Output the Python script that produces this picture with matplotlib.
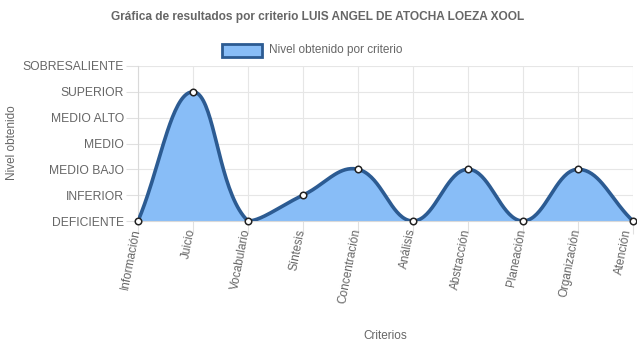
import matplotlib
matplotlib.use("Agg")
import matplotlib.pyplot as plt
import matplotlib.transforms as mtransforms
import numpy as np

plt.rcParams['font.family'] = ['Liberation Sans', 'DejaVu Sans']

criterios = ['Información', 'Juicio', 'Vocabulario', 'Síntesis', 'Concentración',
             'Análisis', 'Abstracción', 'Planeación', 'Organización', 'Atención']
niveles = ['DEFICIENTE', 'INFERIOR', 'MEDIO BAJO', 'MEDIO', 'MEDIO ALTO',
           'SUPERIOR', 'SOBRESALIENTE']
valores = [0, 5, 0, 1, 2, 0, 2, 0, 2, 0]

W, H = 637, 348
L, R, T, B = 138, 633, 66, 221


def spline(xs, ys, sx, sy, tension=0.4):
    """Bezier como el de Chart.js (tension 0.4), calculado en pixeles."""
    px = np.asarray(xs, float) * sx
    py = np.asarray(ys, float) * sy
    n = len(px)
    cp_prev, cp_next = [], []
    for i in range(n):
        a = max(i - 1, 0)
        c = min(i + 1, n - 1)
        d01 = np.hypot(px[i] - px[a], py[i] - py[a])
        d12 = np.hypot(px[c] - px[i], py[c] - py[i])
        tot = d01 + d12
        s01 = d01 / tot if tot else 0
        s12 = d12 / tot if tot else 0
        dx, dy = px[c] - px[a], py[c] - py[a]
        cp_prev.append((px[i] - tension * s01 * dx, py[i] - tension * s01 * dy))
        cp_next.append((px[i] + tension * s12 * dx, py[i] + tension * s12 * dy))
    ymax = 6 * sy
    xmax = (n - 1) * sx
    cl = lambda p: (min(max(p[0], 0), xmax), min(max(p[1], 0), ymax))
    cp_prev = [cl(p) for p in cp_prev]
    cp_next = [cl(p) for p in cp_next]
    t = np.linspace(0, 1, 40)[:, None]
    out = []
    for i in range(n - 1):
        p0 = np.array([px[i], py[i]])
        p1 = np.array(cp_next[i])
        p2 = np.array(cp_prev[i + 1])
        p3 = np.array([px[i + 1], py[i + 1]])
        seg = ((1 - t) ** 3) * p0 + 3 * ((1 - t) ** 2) * t * p1 + 3 * (1 - t) * t ** 2 * p2 + t ** 3 * p3
        out.append(seg if i == 0 else seg[1:])
    out = np.vstack(out)
    return out[:, 0] / sx, out[:, 1] / sy


fig = plt.figure(figsize=(W / 100, H / 100), dpi=100)
ax = fig.add_axes([L / W, 1 - B / H, (R - L) / W, (B - T) / H])

x = np.arange(len(criterios))
sx = (R - L) / (len(criterios) - 1)
sy = (B - T) / 6
cx, cy = spline(x, valores, sx, sy)

fill_c = '#88bdf7'
line_c = '#2c5b92'
ax.fill_between(cx, cy, 0, color=fill_c, lw=0, zorder=2)
ax.plot(cx, cy, color=line_c, lw=2.6, zorder=3, solid_capstyle='round')
ax.scatter(x, valores, s=22, facecolor='white', edgecolor='#222222', lw=1.1, zorder=4, clip_on=False)

ax.set_xlim(0, len(criterios) - 1)
ax.set_ylim(0, 6)
ax.set_xticks(x)
ax.set_xticklabels([])
# etiquetas del eje x (como Chart.js: alineadas a la derecha, centradas en la marca)
for xi, lab in zip(x, criterios):
    dx = -5 if xi == x[-1] else -1
    tr = ax.get_xaxis_transform() + mtransforms.ScaledTranslation(dx / 100, -8 / 100, fig.dpi_scale_trans)
    ax.text(xi, 0, lab, transform=tr, rotation=79, ha='right', va='center',
            rotation_mode='anchor', fontsize=8.5, color='#666666', clip_on=False)
ax.set_yticks(range(7))
ax.set_yticklabels(niveles, fontsize=8.7, color='#666666')
ax.tick_params(axis='both', length=9, width=0.8, color='#e0e0e0', pad=1)
ax.grid(True, color='#e6e6e6', lw=0.8, zorder=0)
for s in ['top', 'right']:
    ax.spines[s].set_visible(False)
for s in ['left', 'bottom']:
    ax.spines[s].set_color('#d9d9d9')
    ax.spines[s].set_linewidth(0.8)

fig.text(318 / W, 1 - 17 / H, 'Gráfica de resultados por criterio LUIS ANGEL DE ATOCHA LOEZA XOOL',
         ha='center', va='center', fontsize=8.6, fontweight='bold', color='#666666')
fig.text(385 / W, 1 - 336 / H, 'Criterios', ha='center', va='center', fontsize=8.5, color='#666666')
fig.text(12 / W, 1 - 143 / H, 'Nivel obtenido', ha='center', va='center', rotation=90,
         fontsize=8.5, color='#666666')

# leyenda
lax = fig.add_axes([0, 0, 1, 1], facecolor='none')
lax.set_xlim(0, W)
lax.set_ylim(H, 0)
lax.axis('off')
lax.add_patch(plt.Rectangle((222, 44), 40, 13, facecolor=fill_c, edgecolor=line_c, lw=2))
lax.text(269, 50.5, 'Nivel obtenido por criterio', ha='left', va='center', fontsize=8.5, color='#666666')

fig.savefig('out.png', dpi=100)
